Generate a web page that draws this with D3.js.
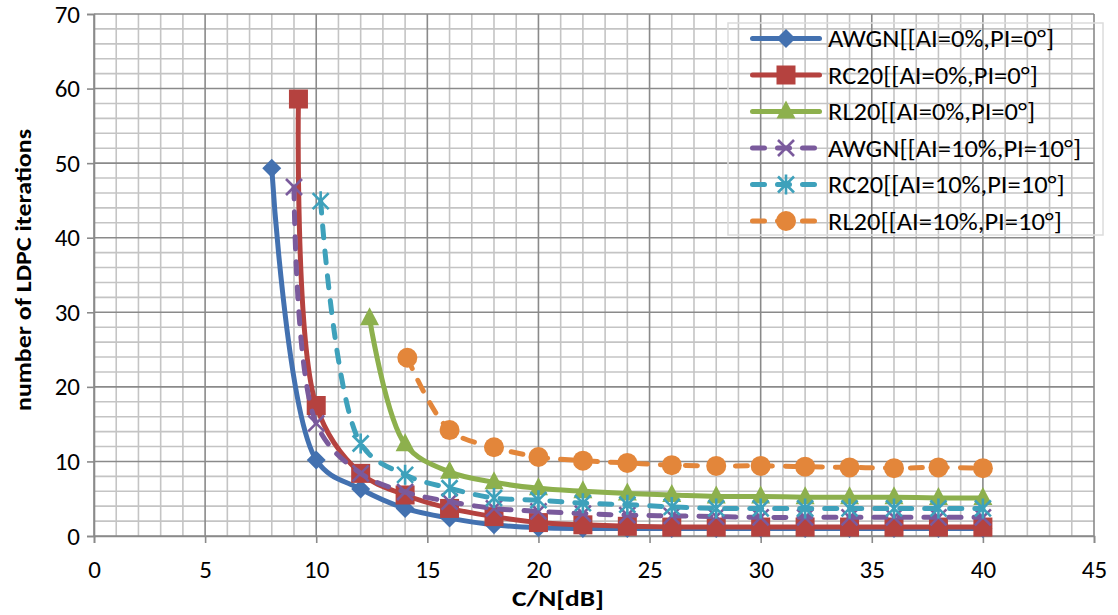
<!DOCTYPE html>
<html>
<head>
<meta charset="utf-8">
<script src="https://cdn.jsdelivr.net/npm/d3@7"></script>
<style>
  html, body { margin: 0; padding: 0; background: #fff; }
  svg { display: block; }
  text { font-family: Carlito, Calibri, Lato, "Open Sans", sans-serif; fill: #000; }
</style>
</head>
<body>
<svg id="chart" width="1118" height="615"></svg>
<script>
// ---------- data ----------
const seriesNames = [
  "AWGN[[AI=0%,PI=0°]",
  "RC20[[AI=0%,PI=0°]",
  "RL20[[AI=0%,PI=0°]",
  "AWGN[[AI=10%,PI=10°]",
  "RC20[[AI=10%,PI=10°]",
  "RL20[[AI=10%,PI=10°]"
];
const awgn0X = [8, 10, 12, 14, 16, 18, 20, 22, 24, 26, 28, 30, 32, 34, 36, 38, 40];
const awgn0Y = [49.3, 10.2, 6.3, 3.7, 2.4, 1.5, 1.1, 1.0, 1.0, 1.0, 1.0, 1.0, 1.0, 1.0, 1.0, 1.0, 1.0];
const rc0X = [9.2, 10, 12, 14, 16, 18, 20, 22, 24, 26, 28, 30, 32, 34, 36, 38, 40];
const rc0Y = [58.6, 17.5, 8.4, 5.5, 3.7, 2.6, 1.8, 1.5, 1.3, 1.2, 1.2, 1.2, 1.2, 1.2, 1.2, 1.2, 1.2];
const rl0X = [12.4, 14, 16, 18, 20, 22, 24, 26, 28, 30, 32, 34, 36, 38, 40];
const rl0Y = [29.2, 12.3, 8.6, 7.2, 6.4, 6.0, 5.7, 5.5, 5.3, 5.3, 5.2, 5.2, 5.2, 5.1, 5.1];
const awgn10X = [9.0, 10, 12, 14, 16, 18, 20, 22, 24, 26, 28, 30, 32, 34, 36, 38, 40];
const awgn10Y = [46.8, 15.1, 8.4, 5.9, 4.6, 3.7, 3.3, 3.0, 2.8, 2.7, 2.6, 2.5, 2.5, 2.5, 2.5, 2.5, 2.5];
const rc10X = [10.2, 12, 14, 16, 18, 20, 22, 24, 26, 28, 30, 32, 34, 36, 38, 40];
const rc10Y = [44.9, 12.4, 8.2, 6.4, 5.1, 4.8, 4.4, 4.2, 3.9, 3.7, 3.7, 3.7, 3.7, 3.7, 3.7, 3.7];
const rl10X = [14.1, 16, 18, 20, 22, 24, 26, 28, 30, 32, 34, 36, 38, 40];
const rl10Y = [23.9, 14.2, 11.9, 10.6, 10.1, 9.8, 9.5, 9.4, 9.4, 9.3, 9.2, 9.1, 9.2, 9.1];

const xTicks = [0, 5, 10, 15, 20, 25, 30, 35, 40, 45];
const yTicks = [0, 10, 20, 30, 40, 50, 60, 70];
const xTitle = "C/N[dB]";
const yTitle = "number of LDPC iterations";

const colors = ["#4371B0", "#B5423F", "#8DB04D", "#7A5A9C", "#3EA1BB", "#E3863A"];
const markers = ["diamond", "square", "triangle", "x", "asterisk", "circle"];
const dashed = [false, false, false, true, true, true];
const xs = [awgn0X, rc0X, rl0X, awgn10X, rc10X, rl10X];
const ys = [awgn0Y, rc0Y, rl0Y, awgn10Y, rc10Y, rl10Y];

// ---------- layout ----------
const svg = d3.select("#chart");
const x = d3.scaleLinear().domain([0, 45]).range([94, 1094]);
const y = d3.scaleLinear().domain([0, 70]).range([536, 14]);

// grid
const grid = svg.append("g");
const minorX = d3.range(0, 46, 1).filter(v => v % 5 !== 0);
const minorY = d3.range(0, 71, 2).filter(v => v % 10 !== 0);
grid.selectAll(".mx").data(minorX).enter().append("line")
  .attr("x1", d => x(d)).attr("x2", d => x(d)).attr("y1", y(0)).attr("y2", y(70))
  .attr("stroke", "#c4c4c4").attr("stroke-width", 1.6);
grid.selectAll(".my").data(minorY).enter().append("line")
  .attr("x1", x(0)).attr("x2", x(45)).attr("y1", d => y(d)).attr("y2", d => y(d))
  .attr("stroke", "#c4c4c4").attr("stroke-width", 1.6);
grid.selectAll(".Mx").data(xTicks).enter().append("line")
  .attr("x1", d => x(d)).attr("x2", d => x(d)).attr("y1", y(0)).attr("y2", y(70))
  .attr("stroke", "#8a8a8a").attr("stroke-width", 1.6);
grid.selectAll(".My").data(yTicks).enter().append("line")
  .attr("x1", x(0)).attr("x2", x(45)).attr("y1", d => y(d)).attr("y2", d => y(d))
  .attr("stroke", "#8a8a8a").attr("stroke-width", 1.6);

// axes
const xAxis = svg.append("g").attr("transform", `translate(0,${y(0)})`)
  .call(d3.axisBottom(x).tickValues(xTicks).tickSize(7).tickPadding(17).tickFormat(d3.format("d")));
const yAxis = svg.append("g").attr("transform", `translate(${x(0)},0)`)
  .call(d3.axisLeft(y).tickValues(yTicks).tickSize(7).tickPadding(7).tickFormat(d3.format("d")));
[xAxis, yAxis].forEach(a => {
  a.select(".domain").attr("stroke", "#8a8a8a").attr("stroke-width", 1.6);
  a.selectAll(".tick line").attr("stroke", "#8a8a8a").attr("stroke-width", 1.6);
  a.selectAll(".tick text").attr("font-size", 25).attr("fill", "#000")
    .style("font-family", "Carlito, Calibri, Lato, sans-serif");
});

svg.append("text").attr("x", 558).attr("y", 606).attr("text-anchor", "middle")
  .attr("font-size", 23).attr("font-weight", "bold")
  .attr("textLength", 92).attr("lengthAdjust", "spacingAndGlyphs").text(xTitle);
svg.append("text").attr("transform", "translate(31,270) rotate(-90)").attr("text-anchor", "middle")
  .attr("font-size", 23).attr("font-weight", "bold")
  .attr("textLength", 282).attr("lengthAdjust", "spacingAndGlyphs").text(yTitle);

// marker drawing
function drawMarker(g, type, color, cx, cy) {
  if (type === "diamond") {
    g.append("path").attr("d", `M${cx},${cy-9.5}L${cx+9.5},${cy}L${cx},${cy+9.5}L${cx-9.5},${cy}Z`).attr("fill", color);
  } else if (type === "square") {
    g.append("rect").attr("x", cx-9.5).attr("y", cy-9.5).attr("width", 19).attr("height", 19).attr("fill", color);
  } else if (type === "triangle") {
    g.append("path").attr("d", `M${cx},${cy-11}L${cx+9.5},${cy+7}L${cx-9.5},${cy+7}Z`).attr("fill", color);
  } else if (type === "circle") {
    g.append("circle").attr("cx", cx).attr("cy", cy).attr("r", 10).attr("fill", color);
  } else if (type === "x") {
    g.append("path").attr("d", `M${cx-8},${cy-8}L${cx+8},${cy+8}M${cx-8},${cy+8}L${cx+8},${cy-8}`)
      .attr("stroke", color).attr("stroke-width", 2.6).attr("fill", "none");
  } else if (type === "asterisk") {
    g.append("path").attr("d", `M${cx-8},${cy-8}L${cx+8},${cy+8}M${cx-8},${cy+8}L${cx+8},${cy-8}M${cx},${cy-10}L${cx},${cy+10}`)
      .attr("stroke", color).attr("stroke-width", 2.6).attr("fill", "none");
  }
}

const line = d3.line().x(d => x(d[0])).y(d => y(d[1])).curve(d3.curveCatmullRom.alpha(0.5));
const plot = svg.append("g");
seriesNames.forEach((name, i) => {
  const pts = xs[i].map((v, j) => [v, ys[i][j]]);
  const g = plot.append("g");
  g.append("path").datum(pts).attr("d", line).attr("fill", "none")
    .attr("stroke", colors[i]).attr("stroke-width", 5)
    .attr("stroke-linecap", "round").attr("stroke-linejoin", "round")
    .attr("stroke-dasharray", dashed[i] ? "12,13" : null);
  pts.forEach(p => drawMarker(g, markers[i], colors[i], x(p[0]), y(p[1])));
});

// legend
const leg = svg.append("g");
leg.append("rect").attr("x", 728).attr("y", 23).attr("width", 375).attr("height", 212)
  .attr("fill", "none").attr("stroke", "#dcdcdc").attr("stroke-width", 1.5);
seriesNames.forEach((name, i) => {
  const cy = 38.5 + i * 36.5;
  leg.append("path").attr("d", `M752.5,${cy}L819.5,${cy}`).attr("stroke", colors[i]).attr("stroke-width", 5)
    .attr("stroke-linecap", "round").attr("stroke-dasharray", dashed[i] ? "12,13" : null);
  drawMarker(leg, markers[i], colors[i], 786, cy);
  const t = leg.append("text").attr("x", 828).attr("y", cy + 8.5).attr("font-size", 25.5).text(name);
  const w = t.node().getComputedTextLength();
  t.attr("textLength", w * 1.04).attr("lengthAdjust", "spacingAndGlyphs");
});
</script>
</body>
</html>
